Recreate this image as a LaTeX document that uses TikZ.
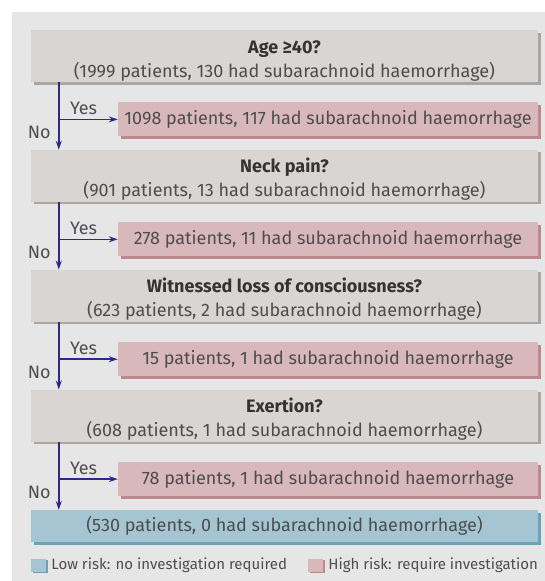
\documentclass[tikz,border=0pt]{standalone}
\usepackage{fontspec}
\setmainfont{Fira Sans}
\usetikzlibrary{arrows.meta,positioning,shadows}

\definecolor{panel}{HTML}{E6E6E6}
\definecolor{qfill}{HTML}{D9D5D2}
\definecolor{qshadow}{HTML}{A9A6A4}
\definecolor{rfill}{HTML}{D9B8BB}
\definecolor{rshadow}{HTML}{BF868D}
\definecolor{lfill}{HTML}{A4C5D1}
\definecolor{lshadow}{HTML}{6CA2B8}
\definecolor{flowblue}{HTML}{2B2A8A}
\definecolor{txt}{HTML}{4D4D4D}
\definecolor{head}{HTML}{333333}

\newcommand{\qhead}[1]{\rule{0pt}{22pt}\textcolor{head}{\bfseries #1}}

\begin{document}
\begin{tikzpicture}[
  >={Stealth[length=9pt,width=6pt]},
  every node/.style={text=txt,inner sep=0pt,font=\fontsize{18}{24}\selectfont},
  node distance=67.5pt,
  question/.style={fill=qfill,minimum width=507pt,minimum height=52pt,align=center,
    drop shadow={shadow xshift=2.5pt,shadow yshift=-2.5pt,fill=qshadow,opacity=1}},
  highrisk/.style={fill=rfill,minimum width=420pt,minimum height=34pt,
    drop shadow={shadow xshift=2.5pt,shadow yshift=-2.5pt,fill=rshadow,opacity=1}},
  lowrisk/.style={fill=lfill,minimum width=507pt,minimum height=32pt,
    drop shadow={shadow xshift=2.5pt,shadow yshift=-2.5pt,fill=lshadow,opacity=1}},
  legbox/.style={minimum width=15pt,minimum height=13pt},
  flow/.style={draw=flowblue,line width=1.6pt,->},
  ]
  \useasboundingbox (0,0) rectangle (545pt,-581pt);
  \fill[panel] (12pt,-12pt) rectangle (545pt,-581pt);

  \node[question] (q1) at (284.5pt,-56pt) {\qhead{Age ≥40?}\\(1999 patients, 130 had subarachnoid haemorrhage)};
  \node[highrisk, below=20pt of q1.south east, anchor=north east] (r1) {1098 patients, 117 had subarachnoid haemorrhage};
  \node[question, below=of q1] (q2) {\qhead{Neck pain?}\\(901 patients, 13 had subarachnoid haemorrhage)};
  \node[highrisk, below=20pt of q2.south east, anchor=north east] (r2) {278 patients, 11 had subarachnoid haemorrhage};
  \node[question, below=of q2] (q3) {\qhead{Witnessed loss of consciousness?}\\(623 patients, 2 had subarachnoid haemorrhage)};
  \node[highrisk, below=20pt of q3.south east, anchor=north east] (r3) {15 patients, 1 had subarachnoid haemorrhage};
  \node[question, below=of q3] (q4) {\qhead{Exertion?}\\(608 patients, 1 had subarachnoid haemorrhage)};
  \node[highrisk, below=20pt of q4.south east, anchor=north east] (r4) {78 patients, 1 had subarachnoid haemorrhage};
  \node[lowrisk, below=68pt of q4] (low) {(530 patients, 0 had subarachnoid haemorrhage)};

  % trunk and branches
  \coordinate (t1) at ([xshift=28pt]q1.south west);
  \coordinate (t2) at ([xshift=28pt]q2.south west);
  \coordinate (t3) at ([xshift=28pt]q3.south west);
  \coordinate (t4) at ([xshift=28pt]q4.south west);
  \coordinate (b1) at (t1 |- r1.west);
  \coordinate (b2) at (t2 |- r2.west);
  \coordinate (b3) at (t3 |- r3.west);
  \coordinate (b4) at (t4 |- r4.west);

  \draw[flow] (t1) -- (t1 |- q2.north);
  \draw[flow] (t2) -- (t2 |- q3.north);
  \draw[flow] (t3) -- (t3 |- q4.north);
  \draw[flow] (t4) -- (t4 |- low.north);
  \draw[flow] (b1) -- (r1.west);
  \draw[flow] (b2) -- (r2.west);
  \draw[flow] (b3) -- (r3.west);
  \draw[flow] (b4) -- (r4.west);

  \node[anchor=south west] (y1) at ([xshift=11pt,yshift=4pt]b1) {Yes};
  \node[anchor=south west] (y2) at ([xshift=11pt,yshift=4pt]b2) {Yes};
  \node[anchor=south west] (y3) at ([xshift=11pt,yshift=4pt]b3) {Yes};
  \node[anchor=south west] (y4) at ([xshift=11pt,yshift=4pt]b4) {Yes};
  \node[anchor=east] (n1) at ([xshift=-8pt,yshift=-13pt]b1) {No};
  \node[anchor=east] (n2) at ([xshift=-8pt,yshift=-13pt]b2) {No};
  \node[anchor=east] (n3) at ([xshift=-8pt,yshift=-13pt]b3) {No};
  \node[anchor=east] (n4) at ([xshift=-8pt,yshift=-13pt]b4) {No};

  % legend
  \node[legbox, fill=lfill, drop shadow={shadow xshift=1.5pt,shadow yshift=-1.5pt,fill=lshadow,opacity=1}] (lowkey) at (38.5pt,-565pt) {};
  \node[right=5pt of lowkey, font=\fontsize{15}{18}\selectfont] (lowtext) {Low risk: no investigation required};
  \node[legbox, fill=rfill, drop shadow={shadow xshift=1.5pt,shadow yshift=-1.5pt,fill=rshadow,opacity=1}] (highkey) at (315.5pt,-565pt) {};
  \node[right=5pt of highkey, font=\fontsize{15}{18}\selectfont] (hightext) {High risk: require investigation};
\end{tikzpicture}
\end{document}
